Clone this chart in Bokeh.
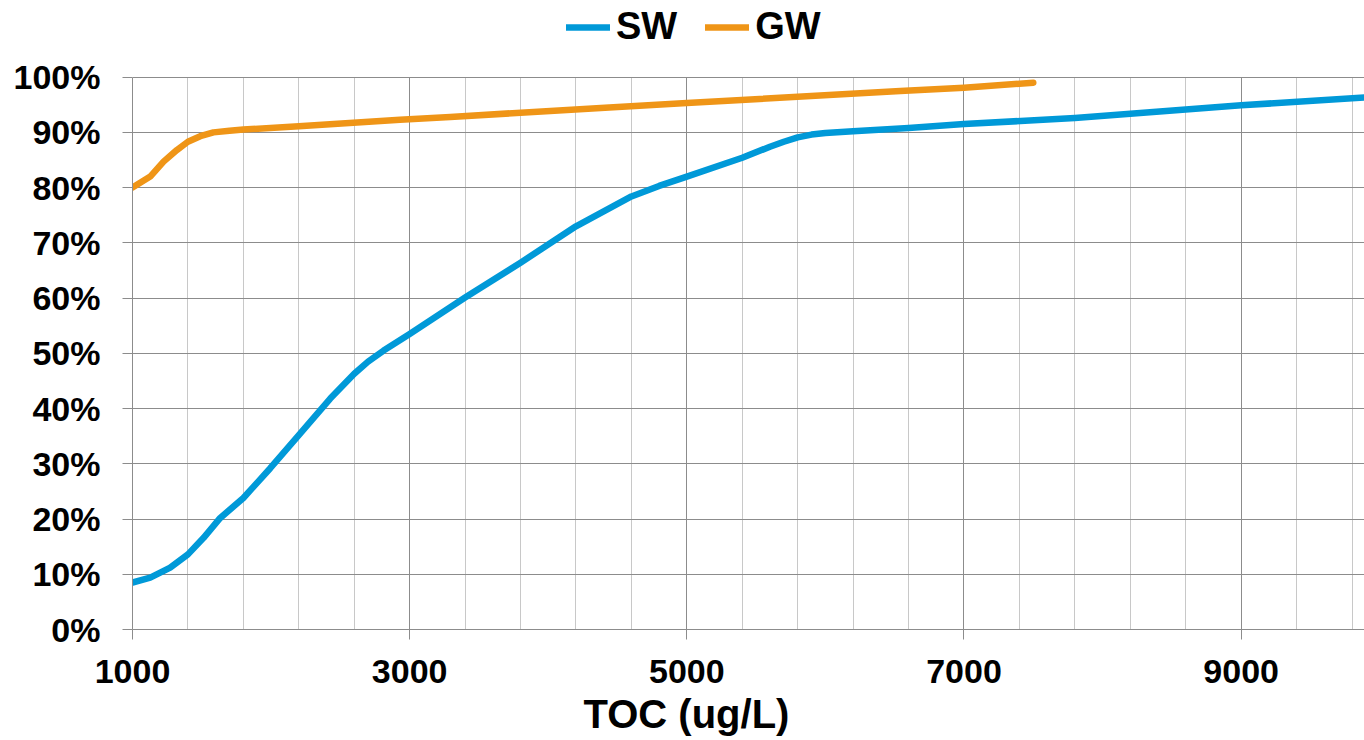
from bokeh.plotting import figure
from bokeh.models import Range1d, FixedTicker, PrintfTickFormatter, Legend, LegendItem, Title
from bokeh.embed import file_html
from bokeh.resources import INLINE

# ---- data ----
sw_x = [1000, 1128, 1272, 1400, 1513, 1633, 1800, 1994, 2200, 2427, 2600, 2700, 2812,
        3000, 3400, 3800, 4200, 4600, 4800, 5000, 5400, 5600, 5700, 5800, 5900, 6000,
        6200, 6600, 7000, 7800, 9000, 9890]
sw_y = [8.5, 9.4, 11.2, 13.6, 16.6, 20.2, 23.8, 29.2, 35.2, 41.8, 46.3, 48.5, 50.5,
        53.5, 60.1, 66.4, 73.0, 78.4, 80.3, 82.0, 85.4, 87.4, 88.3, 89.1, 89.6, 89.9,
        90.2, 90.8, 91.5, 92.6, 94.9, 96.3]

gw_x = [1000, 1128, 1224, 1320, 1400, 1489, 1584, 1700, 1800, 2200, 2930, 3293, 4440,
        5000, 6540, 7000, 7500]
gw_y = [80.0, 82.0, 84.7, 86.8, 88.3, 89.3, 90.0, 90.3, 90.5, 91.1, 92.3, 92.8, 94.5,
        95.3, 97.5, 98.1, 99.0]

x_major_ticks = [1000, 3000, 5000, 7000, 9000]
x_minor_ticks = [1400, 1800, 2200, 2600, 3400, 3800, 4200, 4600, 5400, 5800, 6200,
                 6600, 7400, 7800, 8200, 8600, 9400, 9800]
y_ticks = [0, 10, 20, 30, 40, 50, 60, 70, 80, 90, 100]

series_names = ["SW", "GW"]
x_title = "TOC (ug/L)"

SW_COLOR = "#0099d8"
GW_COLOR = "#ef9517"
FONT = "Liberation Sans"

W, H = 1364, 740
TOP_PX = 77          # where 100% sits
BOTTOM_BORDER = 108
frame_h = H - BOTTOM_BORDER
y_top = 100.0 * frame_h / (frame_h - TOP_PX)   # frame extends to the top so the legend fits

p = figure(width=W, height=H, output_backend="svg", toolbar_location=None,
           x_range=Range1d(1000, 9890), y_range=Range1d(0, y_top),
           min_border_left=132, min_border_right=0, min_border_top=0,
           min_border_bottom=BOTTOM_BORDER)
p.outline_line_color = None
p.background_fill_color = "white"
p.border_fill_color = "white"

# axes
xa = p.xaxis[0]
xa.ticker = FixedTicker(ticks=x_major_ticks, minor_ticks=x_minor_ticks)
ya = p.yaxis[0]
ya.ticker = FixedTicker(ticks=y_ticks)
ya.formatter = PrintfTickFormatter(format="%d%%")
ya.bounds = (0, 100)
for ax in (xa, ya):
    ax.axis_line_color = "#8c8c8c"
    ax.axis_line_width = 1
    ax.major_tick_line_color = "#8c8c8c"
    ax.major_tick_out = 10
    ax.major_tick_in = 0
    ax.minor_tick_out = 0
    ax.minor_tick_in = 0
    ax.major_label_text_font = FONT
    ax.major_label_text_font_style = "bold"
    ax.major_label_text_font_size = "34px"
    ax.major_label_text_color = "black"
xa.major_label_standoff = 20
ya.major_label_standoff = 22

# grids
p.xgrid.grid_line_color = "#8c8c8c"
p.xgrid.grid_line_width = 1
p.xgrid.minor_grid_line_color = "#c8c8c8"
p.xgrid.minor_grid_line_width = 1
p.xgrid.cross_bounds = (0, 100)
p.ygrid.grid_line_color = "#8c8c8c"
p.ygrid.grid_line_width = 1

# lines
r_sw = p.line(sw_x, sw_y, line_color=SW_COLOR, line_width=6.5, line_cap="round", line_join="round")
r_gw = p.line(gw_x, gw_y, line_color=GW_COLOR, line_width=6.5, line_cap="round", line_join="round")

# legend at the top (inside the extended frame, above the 100% line)
legend = Legend(items=[LegendItem(label=series_names[0], renderers=[r_sw]),
                       LegendItem(label=series_names[1], renderers=[r_gw])],
                orientation="horizontal", location=(434, frame_h - 51),
                glyph_width=44, glyph_height=30, label_standoff=6, spacing=28,
                padding=0, margin=0, border_line_alpha=0, background_fill_alpha=0,
                label_text_font=FONT, label_text_font_style="bold",
                label_text_font_size="38px", label_text_color="black")
p.add_layout(legend, "center")

# x axis title (below the axis, shifted to match the reference)
p.add_layout(Title(text=x_title, align="left", offset=451, standoff=9,
                   text_font=FONT, text_font_style="bold", text_font_size="40px",
                   text_color="black"), "below")

open("out.html", "w").write(file_html(p, INLINE))
